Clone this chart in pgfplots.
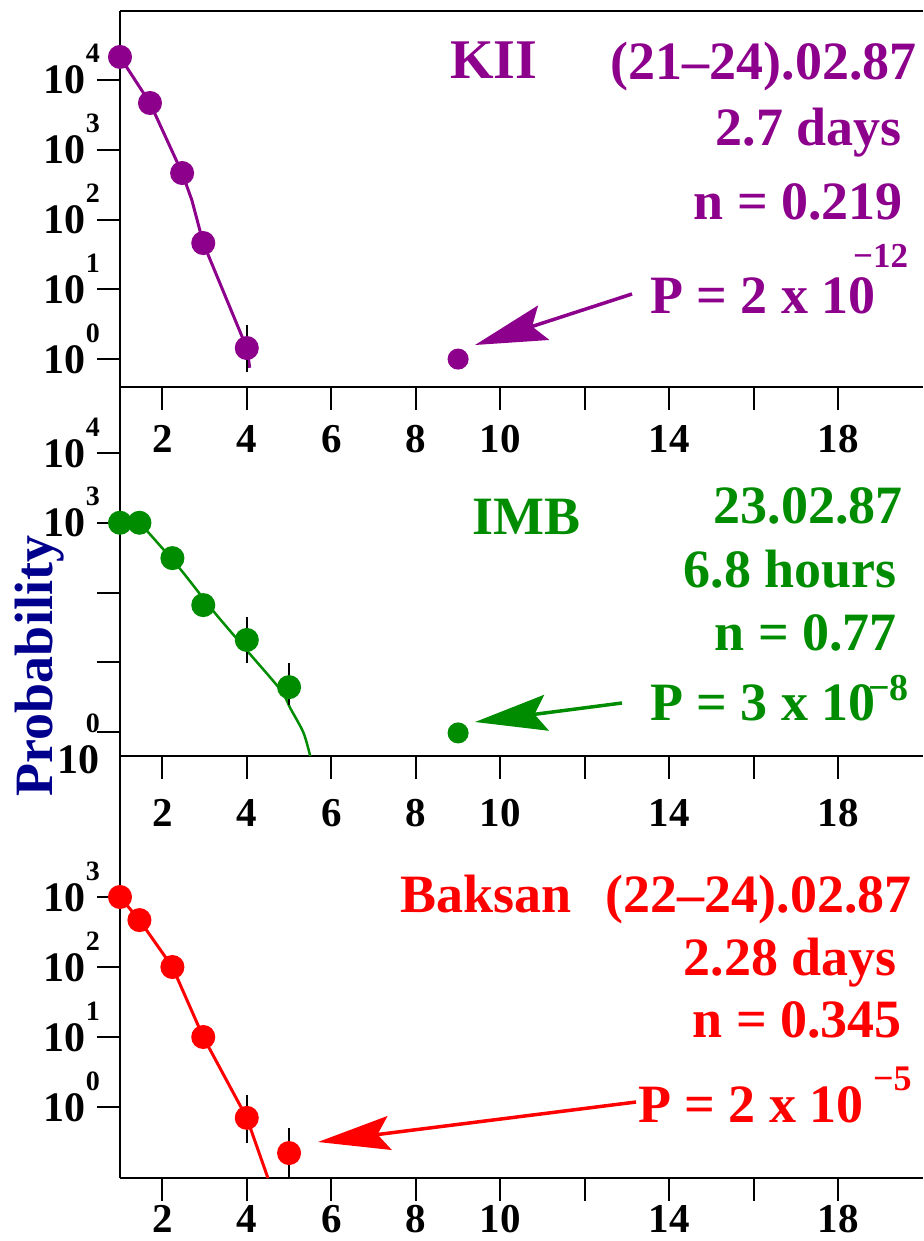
\documentclass[border=0pt]{standalone}
\usepackage{fontspec}
\setmainfont{Liberation Serif}
\usepackage{pgfplots}
\pgfplotsset{compat=1.18}
\usetikzlibrary{arrows.meta}
\definecolor{kpurple}{RGB}{140,0,140}
\definecolor{igreen}{RGB}{0,140,0}
\definecolor{bred}{RGB}{255,0,0}
\definecolor{pnavy}{RGB}{0,0,140}
\newcommand{\ylab}[1]{\fontsize{42}{42}\selectfont\bfseries 10\raisebox{31pt}{\fontsize{28}{28}\selectfont #1}}
\newcommand{\ylabz}{\fontsize{42}{42}\selectfont\bfseries\raisebox{14pt}{\fontsize{28}{28}\selectfont 0}\llap{\raisebox{-27pt}{10}}}
\newcommand{\bigtxt}{\fontsize{54}{54}\selectfont\bfseries}
\pgfplotsset{
  panel/.style={
    scale only axis, width=803pt,
    xmin=1, xmax=20,
    axis x line*=bottom, axis y line*=left,
    x axis line style={-, line width=2pt},
    y axis line style={-, line width=2pt},
    tick align=outside,
    major tick length=23pt,
    every tick/.style={black, line width=2pt},
    xminorticks=false, yminorticks=false,
    xtick={2,4,6,8,10,12,14,16,18},
    xticklabels={2,4,6,8,10,,14,,18},
    xticklabel style={font=\fontsize{41}{41}\selectfont\bfseries, inner sep=0pt, anchor=north},
    yticklabel style={anchor=base east, inner sep=0pt, xshift=3pt, yshift=-14pt},
    clip=false,
  },
  dat/.style={mark=*, mark size=10.5pt, line width=3pt, color=#1, mark options={fill=#1, draw=#1}},
  ebar/.style={black, line width=2pt, no marks},
}
\begin{document}
\begin{tikzpicture}[x=1pt,y=1pt]
\useasboundingbox (0,0) rectangle (923,-1241);
% ---------- Panel 1: KII ----------
\begin{axis}[ymode=log, panel, at={(120pt,-387pt)}, anchor=south west, height=376pt,
  ymin=0.398, ymax=97500,
  ytick={1,10,100,1000,10000},
  yticklabels={\ylab{0},\ylab{1},\ylab{2},\ylab{3},\ylab{4}},
  xticklabel style={yshift=-15pt}]
\draw[line width=2pt] (rel axis cs:0,1) -- (rel axis cs:1,1);
\addplot[kpurple, line width=3pt, no marks] coordinates {(1,21400) (1.71,4680) (2.47,464) (2.7,190) (2.97,46) (4,1.44) (4.07,0.75)};
\addplot[dat=kpurple, only marks] coordinates {(1,21400) (1.71,4680) (2.47,464) (2.97,46) (4,1.44)};
\addplot[dat=kpurple, only marks, mark size=9pt] coordinates {(9,1.0)};
\addplot[ebar] coordinates {(4,0.65) (4,3.07)};
\end{axis}
% ---------- Panel 2: IMB ----------
\begin{axis}[ymode=log, panel, at={(120pt,-756pt)}, anchor=south west, height=370pt,
  ymin=0.453, ymax=91300,
  ytick={1,10,100,1000,10000},
  yticklabels={\ylabz,{},{},\ylab{3},\ylab{4}},
  xticklabel style={yshift=-20pt}]
\addplot[igreen, line width=2.5pt, no marks, smooth] coordinates {(1.46,1000) (1.63,776) (2.42,219) (3.2,55) (4.0,14.8) (4.8,4.0) (5.03,2.19) (5.34,0.98) (5.5,0.453)};
\addplot[dat=igreen, only marks] coordinates {(1,1000) (1.46,1000) (2.24,311) (2.97,66) (4,20.9) (5,4.4)};
\addplot[dat=igreen, only marks, mark size=9pt] coordinates {(9,0.97)};
\addplot[ebar] coordinates {(4,9.7) (4,44.6)};
\addplot[ebar] coordinates {(5,2.44) (5,9.7)};
\end{axis}
% ---------- Panel 3: Baksan ----------
\begin{axis}[ymode=log, panel, at={(120pt,-1178pt)}, anchor=south west, height=422pt,
  ymin=0.0968, ymax=103300,
  ytick={1,10,100,1000},
  yticklabels={\ylab{0},\ylab{1},\ylab{2},\ylab{3}},
  xticklabel style={yshift=-4pt}]
\addplot[bred, line width=3pt, no marks] coordinates {(1,1000) (1.46,468) (2.24,100) (2.97,10) (4,0.70) (4.5,0.0968)};
\addplot[dat=bred, only marks] coordinates {(1,1000) (1.46,468) (2.24,100) (2.97,10) (4,0.70) (5,0.22)};
\addplot[ebar] coordinates {(4,0.31) (4,1.48)};
\addplot[ebar] coordinates {(5,0.0968) (5,0.5)};
\end{axis}
% ---------- y label ----------
\node[rotate=90, anchor=base, inner sep=0pt, text=pnavy, font=\fontsize{54}{54}\selectfont\bfseries] at (52,-666) {Probability};
% ---------- annotations panel 1 ----------
\begin{scope}[every node/.style={inner sep=0pt, text=kpurple, font=\bigtxt}]
\node[anchor=base west, font=\fontsize{56}{56}\selectfont\bfseries] at (450,-79) {KII};
\node[anchor=base east] at (917,-80) {(21--24).02.87};
\node[anchor=base east] at (902,-146) {2.7 days};
\node[anchor=base east] at (903,-220) {n = 0.219};
\node[anchor=base west] at (650,-313) {P = 2 x 10};
\node[anchor=base west, font=\fontsize{35}{35}\selectfont\bfseries] at (853,-267) {−12};
\end{scope}
\draw[kpurple, line width=3.5pt, -{Stealth[length=72pt, width=36pt, inset=12pt]}] (632,-294) -- (475,-345);
% ---------- annotations panel 2 ----------
\begin{scope}[every node/.style={inner sep=0pt, text=igreen, font=\bigtxt}]
\node[anchor=base west] at (472,-534) {IMB};
\node[anchor=base east] at (903,-523) {23.02.87};
\node[anchor=base east] at (897,-587) {6.8 hours};
\node[anchor=base east] at (897,-650) {n = 0.77};
\node[anchor=base west] at (650,-720) {P = 3 x 10};
\node[anchor=base west, font=\fontsize{38}{38}\selectfont\bfseries] at (868,-700) {−8};
\end{scope}
\draw[igreen, line width=3.5pt, -{Stealth[length=72pt, width=36pt, inset=12pt]}] (622,-703) -- (475,-722);
% ---------- annotations panel 3 ----------
\begin{scope}[every node/.style={inner sep=0pt, text=bred, font=\bigtxt}]
\node[anchor=base west] at (400,-912) {Baksan};
\node[anchor=base east] at (912,-912) {(22--24).02.87};
\node[anchor=base east] at (897,-975) {2.28 days};
\node[anchor=base east] at (902,-1037) {n = 0.345};
\node[anchor=base west] at (638,-1122) {P = 2 x 10};
\node[anchor=base west, font=\fontsize{36}{36}\selectfont\bfseries] at (873,-1090) {−5};
\end{scope}
\draw[bred, line width=3.5pt, -{Stealth[length=72pt, width=34pt, inset=12pt]}] (636,-1102) -- (318,-1142);
\end{tikzpicture}
\end{document}
